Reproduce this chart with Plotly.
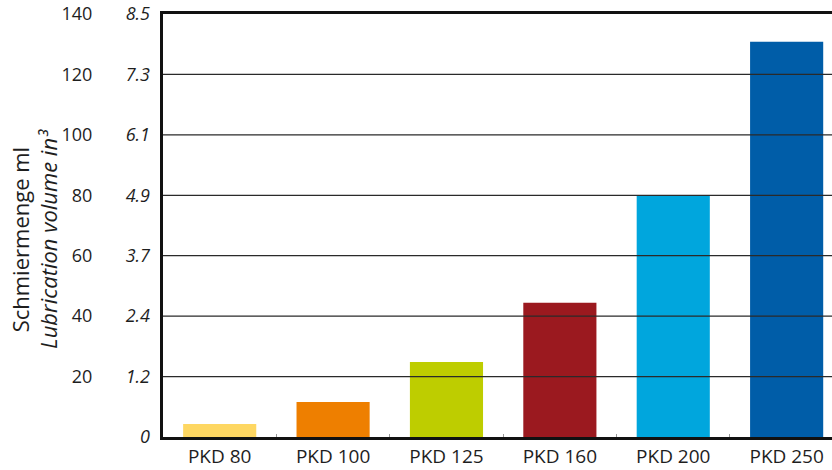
import plotly.graph_objects as go

categories = ["PKD 80", "PKD 100", "PKD 125", "PKD 160", "PKD 200", "PKD 250"]
volume_ml = [4.3, 11.6, 24.8, 44.4, 79.8, 130.8]
bar_colors = ["#FED762", "#EE7F00", "#BECD00", "#9B191F", "#00A6DD", "#005DA8"]
ml_ticks = [0, 20, 40, 60, 80, 100, 120, 140]
ml_labels = ["", "20", "40", "60", "80", "100", "120", "140"]
in_labels = ["0", "1.2", "2.4", "3.7", "4.9", "6.1", "7.3", "8.5"]

FONT = "Open Sans"
TXT = "#1e1e1e"

fig = go.Figure()
fig.add_trace(go.Bar(
    x=categories, y=volume_ml, marker=dict(color=bar_colors, line=dict(width=0)),
    width=0.645, hoverinfo="x+y", showlegend=False,
))
# invisible trace for secondary (in³) axis
fig.add_trace(go.Scatter(x=categories, y=volume_ml, yaxis="y2", mode="markers",
                         marker=dict(opacity=0), hoverinfo="skip", showlegend=False))

for v in ml_ticks[1:-1]:
    fig.add_hline(y=v, line=dict(color="#2a2a2a", width=1.2), layer="above")

fig.update_layout(
    width=832, height=470,
    margin=dict(l=163, r=0, t=14, b=33),
    paper_bgcolor="white", plot_bgcolor="white",
    font=dict(family=FONT, size=18, color=TXT),
    xaxis=dict(
        range=[-0.5, 5.4], showgrid=False, zeroline=False,
        showline=True, linecolor="#111", linewidth=3, mirror=True,
        ticks="inside", tickson="boundaries", ticklen=3, tickcolor="#999",
        tickfont=dict(family=FONT, size=19, color=TXT),
        layer="above traces",
    ),
    yaxis=dict(
        range=[0, 140], tickvals=ml_ticks, ticktext=ml_labels,
        showgrid=False, zeroline=False, showline=True, linecolor="#111", linewidth=3,
        ticks="", ticklabelstandoff=64,
        tickfont=dict(family=FONT, size=18, color=TXT),
        layer="above traces",
    ),
    yaxis2=dict(
        range=[0, 140], overlaying="y", side="left", anchor="x",
        tickvals=ml_ticks, ticktext=["<i>%s</i>" % t for t in in_labels],
        showgrid=False, zeroline=False, showline=False, ticks="",
        ticklabelstandoff=12,
        tickfont=dict(family=FONT, size=18, color=TXT),
    ),
    annotations=[dict(
        text="Schmiermenge ml<br><i>Lubrication volume in³</i>",
        textangle=-90, xref="paper", yref="paper", x=-0.193, y=0.468,
        xanchor="center", yanchor="middle", showarrow=False,
        font=dict(family=FONT, size=22, color=TXT),
    )],
)

fig.write_html("out.html", config={"displayModeBar": False},
               post_script="document.body.style.margin='0';document.body.style.overflow='hidden';")
